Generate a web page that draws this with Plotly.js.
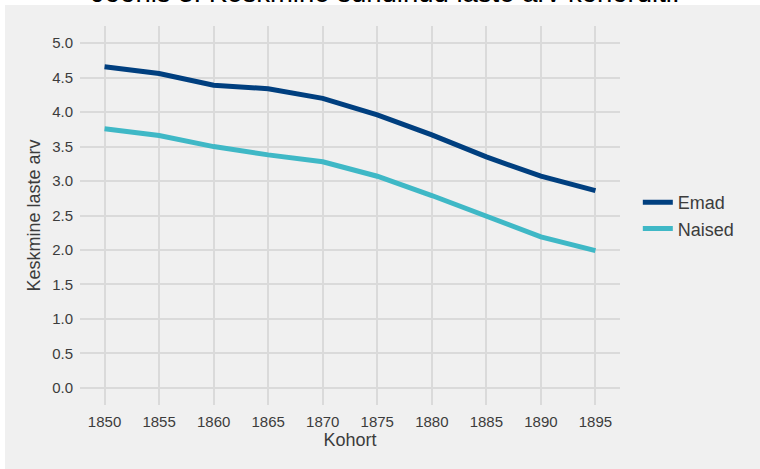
<!DOCTYPE html>
<html>
<head>
<meta charset="utf-8">
<script src="https://cdn.plot.ly/plotly-3.0.1.min.js"></script>
<style>
html,body{margin:0;padding:0;background:#ffffff;}
#chart{width:760px;height:469px;}
</style>
</head>
<body>
<div id="chart"></div>
<script>
var cohorts = [1850, 1855, 1860, 1865, 1870, 1875, 1880, 1885, 1890, 1895];
var emad = [4.66, 4.56, 4.39, 4.34, 4.20, 3.96, 3.67, 3.35, 3.07, 2.86];
var naised = [3.76, 3.66, 3.50, 3.38, 3.28, 3.07, 2.79, 2.49, 2.19, 1.99];
var seriesNames = ['Emad', 'Naised'];
var yTicks = [0, 0.5, 1, 1.5, 2, 2.5, 3, 3.5, 4, 4.5, 5];
var yTickText = ['0.0','0.5','1.0','1.5','2.0','2.5','3.0','3.5','4.0','4.5','5.0'];
var titleText = 'Joonis 3. Keskmine sündinud laste arv kohorditi.';

var font = 'Liberation Sans, Arial, sans-serif';
var traces = [
  {x: cohorts, y: emad, name: seriesNames[0], type: 'scatter', mode: 'lines',
   line: {color: '#003f7f', width: 5}},
  {x: cohorts, y: naised, name: seriesNames[1], type: 'scatter', mode: 'lines',
   line: {color: '#3fb8c6', width: 5}}
];
var layout = {
  width: 760, height: 469,
  paper_bgcolor: '#ffffff',
  plot_bgcolor: 'rgba(0,0,0,0)',
  margin: {l: 80, r: 140, t: 26, b: 64},
  font: {family: font, color: '#3c3c3c'},
  title: {text: titleText, x: 0.507, xanchor: 'center', xref: 'container',
          y: 0.996, yanchor: 'bottom', yref: 'container',
          font: {family: font, size: 27.5, color: '#000000'}},
  shapes: [
    {type: 'rect', xref: 'paper', yref: 'paper', layer: 'below',
     x0: -75/540, x1: 680/540, y0: -64/379, y1: 400/379,
     fillcolor: '#f0f0f0', line: {width: 0}}
  ],
  xaxis: {
    range: [1847.75, 1897.25],
    tickvals: cohorts,
    ticktext: cohorts.map(String),
    showgrid: true, gridcolor: '#dadada', gridwidth: 2,
    zeroline: false, showline: false, ticks: '',
    tickfont: {size: 15, color: '#3c3c3c'},
    ticklabelstandoff: 6,
    title: {text: 'Kohort', font: {size: 18, color: '#3c3c3c'}, standoff: 2}
  },
  yaxis: {
    range: [-0.25, 5.25],
    tickvals: yTicks,
    ticktext: yTickText,
    showgrid: true, gridcolor: '#dadada', gridwidth: 2,
    zeroline: false, showline: false, ticks: '',
    tickfont: {size: 15, color: '#3c3c3c'},
    ticklabelstandoff: 6,
    title: {text: 'Keskmine laste arv', font: {size: 18, color: '#3c3c3c'}, standoff: 6}
  },
  showlegend: true,
  legend: {x: 1.033, xanchor: 'left', y: 0.5, yanchor: 'middle',
           bgcolor: 'rgba(0,0,0,0)', font: {size: 18, color: '#3c3c3c'},
           itemwidth: 30, tracegroupgap: 0}
};
Plotly.newPlot('chart', traces, layout, {displayModeBar: false, staticPlot: true});
</script>
</body>
</html>
